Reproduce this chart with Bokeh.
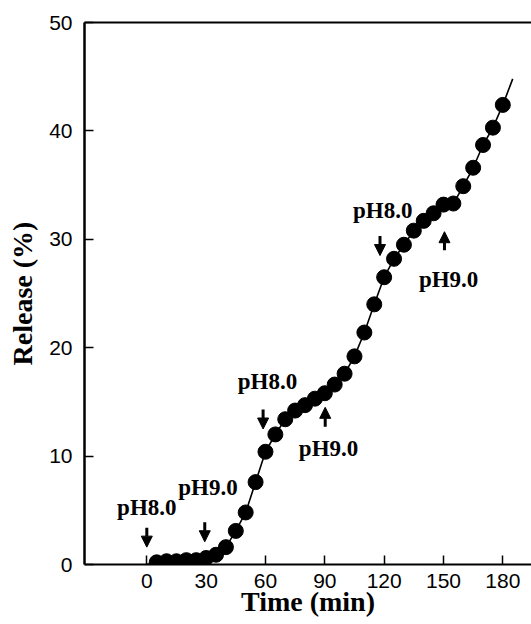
from bokeh.plotting import figure
from bokeh.models import (ColumnDataSource, Range1d, FixedTicker, LinearAxis,
                          Arrow, NormalHead)
from bokeh.core.properties import value
from bokeh.embed import file_html
from bokeh.resources import INLINE

# ---- data ----
time_min = [5, 10, 15, 20, 25, 30, 35, 40, 45, 50, 55, 60, 65, 70, 75, 80, 85,
            90, 95, 100, 105, 110, 115, 120, 125, 130, 135, 140, 145, 150, 155,
            160, 165, 170, 175, 180]
release = [0.2, 0.3, 0.3, 0.4, 0.4, 0.6, 0.9, 1.6, 3.1, 4.8, 7.6, 10.4, 12.0,
           13.4, 14.2, 14.7, 15.3, 15.8, 16.6, 17.6, 19.2, 21.4, 24.0, 26.5,
           28.2, 29.5, 30.8, 31.7, 32.4, 33.2, 33.3, 34.9, 36.6, 38.7, 40.3,
           42.4]
# fitted curve through the points (starts at origin, runs past the last point)
curve_t = [0] + time_min + [185]
curve_y = [0.0] + release + [44.8]

x_ticks = [0, 30, 60, 90, 120, 150, 180]
y_ticks = [0, 10, 20, 30, 40, 50]
x_title = "Time (min)"
y_title = "Release (%)"

# annotations: pH change labels and arrows
ann_text = ["pH8.0", "pH9.0", "pH8.0", "pH9.0", "pH8.0", "pH9.0"]
ann_x = [0.0, 30.9, 61.0, 91.9, 119.3, 152.6]
ann_y = [5.3, 7.1, 16.9, 10.7, 32.7, 26.3]
arrow_x = [0.0, 29.3, 58.8, 90.2, 117.9, 150.5]
arrow_y0 = [3.4, 3.9, 14.3, 12.7, 30.3, 29.0]
arrow_y1 = [1.6, 2.1, 12.5, 14.5, 28.5, 30.7]

# ---- figure ----
p = figure(width=531, height=624, output_backend="svg", toolbar_location=None,
           x_range=Range1d(-31.5, 194.5), y_range=Range1d(0, 50),
           min_border_left=84, min_border_right=0, min_border_top=22,
           min_border_bottom=60)
p.outline_line_color = None
p.xgrid.visible = False
p.ygrid.visible = False
p.background_fill_color = "white"

serif = "Liberation Serif"
sans = "Liberation Sans"

for ax in (p.xaxis[0], p.yaxis[0]):
    ax.axis_line_color = "black"
    ax.major_tick_line_color = "black"
    ax.major_tick_line_width = 1.5
    ax.major_tick_in = 9
    ax.major_tick_out = 0
    ax.minor_tick_line_color = None
    ax.major_label_text_font = sans
    ax.major_label_text_font_size = "21px"
    ax.major_label_text_color = "black"
    ax.axis_label_text_font = serif
    ax.axis_label_text_font_style = "bold"
    ax.axis_label_text_font_size = "28px"
    ax.axis_label_text_color = "black"

p.xaxis[0].ticker = FixedTicker(ticks=x_ticks)
p.yaxis[0].ticker = FixedTicker(ticks=y_ticks)
p.xaxis[0].axis_line_width = 2
p.yaxis[0].axis_line_width = 2.5
p.xaxis[0].axis_label = x_title
p.yaxis[0].axis_label = y_title
p.xaxis[0].major_label_standoff = 9
p.xaxis[0].axis_label_standoff = -5
p.yaxis[0].major_label_standoff = 12
p.yaxis[0].axis_label_standoff = 8

top = LinearAxis(axis_line_width=2, axis_line_color="black",
                 major_tick_line_color=None, minor_tick_line_color=None,
                 major_label_text_font_size="0px", ticker=FixedTicker(ticks=[]))
p.add_layout(top, "above")

# curve and points
p.line(curve_t, curve_y, line_color="black", line_width=1.6)
p.scatter(time_min, release, size=15, fill_color="black", line_color="black")

# arrows
arr_src = ColumnDataSource(dict(x=arrow_x, y0=arrow_y0, y1=arrow_y1))
p.add_layout(Arrow(x_start="x", y_start="y0", x_end="x", y_end="y1",
                   source=arr_src, line_width=3, line_color="black",
                   end=NormalHead(size=11, fill_color="black",
                                  line_color="black", line_width=1)))

# labels
txt_src = ColumnDataSource(dict(x=ann_x, y=ann_y, t=ann_text))
p.text("x", "y", text="t", source=txt_src, text_font=value(serif),
       text_font_style="bold", text_font_size="23px", text_align="center",
       text_baseline="middle", text_color="black")

open("out.html", "w").write(file_html(p, INLINE))
